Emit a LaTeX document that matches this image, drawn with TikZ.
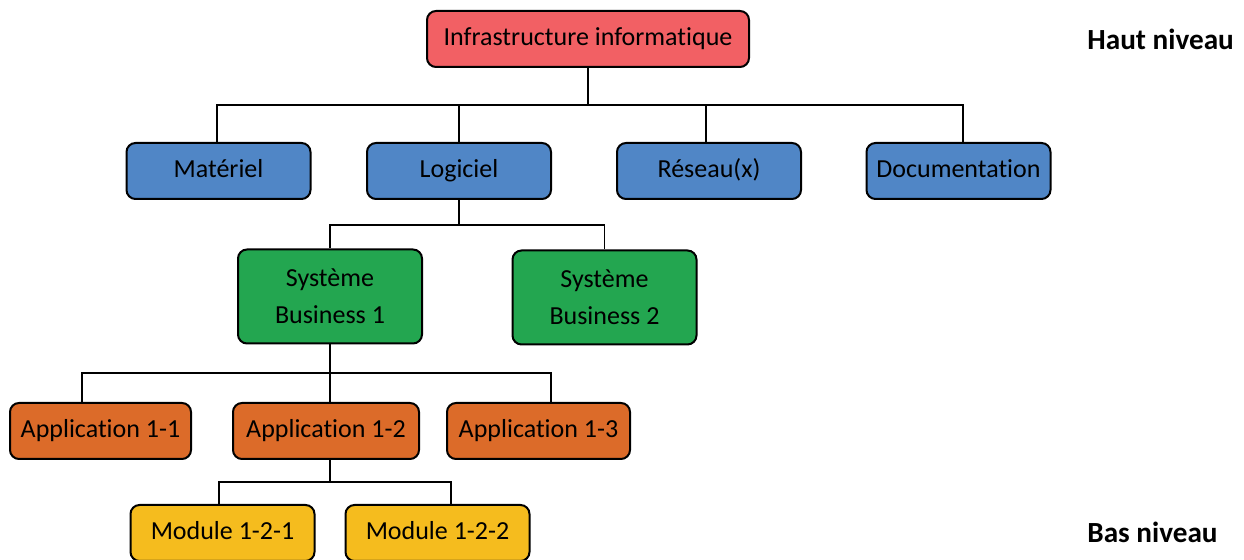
\documentclass[tikz,border=0pt]{standalone}
\usepackage{fontspec}
\setmainfont{Carlito}[Ligatures={NoCommon}]
\usepackage{tikz}
\usetikzlibrary{positioning}
\usepackage{xcolor}

\definecolor{rouge}{RGB}{242,96,100}
\definecolor{bleu}{RGB}{80,134,198}
\definecolor{vert}{RGB}{35,166,80}
\definecolor{orange}{RGB}{220,107,41}
\definecolor{jaune}{RGB}{245,188,30}

\begin{document}
\begin{tikzpicture}[x=0.5pt,y=-0.5pt,
    box/.style={draw,line width=1pt,rounded corners=4.5pt,minimum height=28pt,
      minimum width=92pt,inner sep=0pt,align=center,text height=9.2pt,text depth=3pt,
      font=\fontsize{13}{18.5}\selectfont},
    deux/.style={box,minimum height=47pt,text height=,text depth=},
    lien/.style={line width=0.8pt},
    niveau/.style={anchor=west,inner sep=0pt,font=\fontsize{14.6}{16}\selectfont\bfseries}]
  \useasboundingbox (0,0) rectangle (1244,560);
  % haut
  \node[box,fill=rouge,minimum width=161pt] (infra) at (588,39) {Infrastructure informatique};
  \node[box,fill=bleu] (mat) at (218.5,171) {Matériel};
  \node[box,fill=bleu] (log) at (459,171) {Logiciel};
  \node[box,fill=bleu] (res) at (709,171) {Réseau(x)};
  \node[box,fill=bleu] (doc) at (958.5,171) {Documentation};
  \node[deux,fill=vert] (sb1) at (330,296.5) {Système\\Business 1};
  \node[deux,fill=vert] (sb2) at (604.5,297.5) {Système\\Business 2};
  \node[box,fill=orange,minimum width=90.5pt] (app1) at (100.5,431) {Application 1-1};
  \node[box,fill=orange,minimum width=93pt] (app2) at (326,431) {Application 1-2};
  \node[box,fill=orange,minimum width=91.5pt] (app3) at (538.5,431) {Application 1-3};
  \node[box,fill=jaune] (mod1) at (222.5,533) {Module 1-2-1};
  \node[box,fill=jaune] (mod2) at (437.5,533) {Module 1-2-2};
  \node[niveau] (haut) at (1087,39) {Haut niveau};
  \node[niveau] (bas) at (1087,532) {Bas niveau};
  % liens
  \coordinate (b1) at (0,105);
  \coordinate (b2) at (0,225);
  \coordinate (b3) at (0,373);
  \coordinate (b4) at (0,482);
  \coordinate (m) at ([xshift=-0.75pt]mat.north);
  \coordinate (r) at ([xshift=-1.5pt]res.north);
  \coordinate (d) at ([xshift=2.25pt]doc.north);
  \coordinate (a1) at ([xshift=-9.25pt]app1.north);
  \coordinate (a3) at ([xshift=6.25pt]app3.north);
  \coordinate (c1) at ([xshift=-1.75pt]mod1.north);
  \coordinate (c2) at ([xshift=6.75pt]mod2.north);
  \draw[lien] (infra.south) -- (infra.south |- b1);
  \draw[lien] (m) -- (m |- b1) -- (d |- b1) -- (d);
  \draw[lien] (log.north) -- (log.north |- b1);
  \draw[lien] (r) -- (r |- b1);
  \draw[lien] (log.south) -- (log.south |- b2);
  \draw[lien] (sb1.north) -- (sb1.north |- b2) -- (sb2.north |- b2) -- (sb2.north);
  \draw[lien] (sb1.south) -- (sb1.south |- app2.north);
  \draw[lien] (a1) -- (a1 |- b3) -- (a3 |- b3) -- (a3);
  \draw[lien] (sb1.south |- app2.south) -- (sb1.south |- b4);
  \draw[lien] (c1) -- (c1 |- b4) -- (c2 |- b4) -- (c2);
\end{tikzpicture}
\end{document}
